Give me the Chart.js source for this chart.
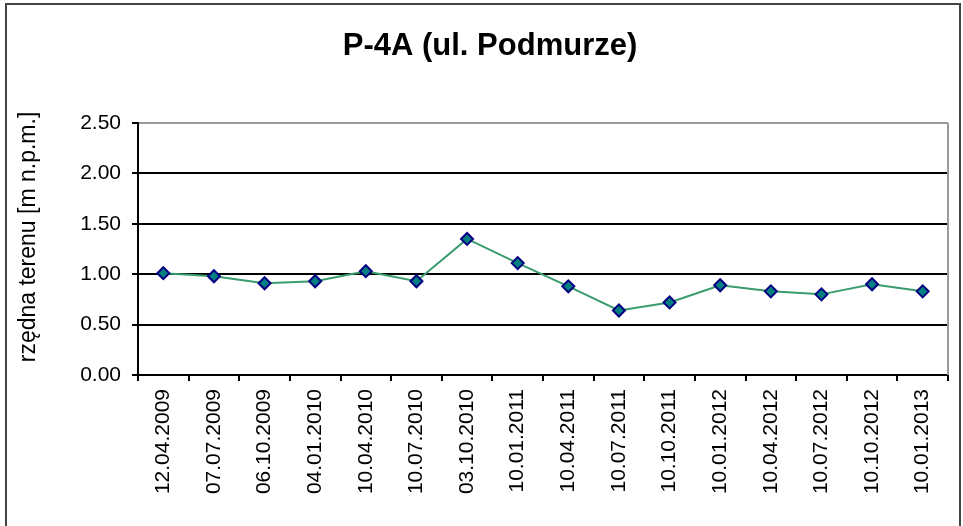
<!DOCTYPE html>
<html>
<head>
<meta charset="utf-8">
<script src="https://cdn.jsdelivr.net/npm/chart.js@4"></script>
<style>
  html, body { margin: 0; padding: 0; background: #fff; }
  #chart { display: block; }
</style>
</head>
<body>
<canvas id="chart" width="963" height="526"></canvas>
<script>
const dates = [
  '12.04.2009', '07.07.2009', '06.10.2009', '04.01.2010',
  '10.04.2010', '10.07.2010', '03.10.2010', '10.01.2011',
  '10.04.2011', '10.07.2011', '10.10.2011', '10.01.2012',
  '10.04.2012', '10.07.2012', '10.10.2012', '10.01.2013'
];
const levels = [
  1.01, 0.98, 0.91, 0.93,
  1.03, 0.93, 1.35, 1.11,
  0.88, 0.64, 0.72, 0.89,
  0.83, 0.80, 0.90, 0.83
];
const yTicks = [0, 0.5, 1, 1.5, 2, 2.5];

const chartTitle = 'P-4A (ul. Podmurze)';
const yTitle = 'rzędna terenu [m n.p.m.]';
const fontFamily = '"Liberation Sans", Arial, sans-serif';

// white page, outer frame, titles, gray right plot border
const frame = {
  id: 'frame',
  beforeDraw(chart) {
    const c = chart.ctx;
    c.save();
    c.fillStyle = '#fff';
    c.fillRect(0, 0, chart.width, chart.height);
    c.restore();
  },
  beforeDatasetsDraw(chart) {
    const c = chart.ctx;
    const a = chart.chartArea;
    c.save();
    c.strokeStyle = '#9a9a9a';
    c.lineWidth = 2;
    c.beginPath();
    c.moveTo(a.right, a.top);
    c.lineTo(a.right, a.bottom);
    c.stroke();
    c.restore();
  },
  afterDraw(chart) {
    const c = chart.ctx;
    c.save();
    c.strokeStyle = '#444';
    c.lineWidth = 2;
    c.beginPath();
    c.moveTo(6, 530);
    c.lineTo(6, 4);
    c.lineTo(960, 4);
    c.lineTo(960, 530);
    c.stroke();

    c.fillStyle = '#000';
    c.font = 'bold 31px ' + fontFamily;
    c.textAlign = 'center';
    c.textBaseline = 'middle';
    c.fillText(chartTitle, 490, 46);

    c.translate(29, 237);
    c.rotate(-Math.PI / 2);
    c.font = '23px ' + fontFamily;
    c.fillText(yTitle, 0, 0);
    c.restore();
  }
};

new Chart(document.getElementById('chart'), {
  type: 'line',
  data: {
    labels: dates,
    datasets: [{
      label: chartTitle,
      data: levels,
      borderColor: '#3a9c6e',
      borderWidth: 2,
      tension: 0,
      pointStyle: 'rectRot',
      pointRadius: 6,
      pointHoverRadius: 6,
      pointBackgroundColor: '#008080',
      pointBorderColor: '#000080',
      pointBorderWidth: 2
    }]
  },
  options: {
    responsive: false,
    animation: false,
    devicePixelRatio: 1,
    layout: {
      padding: { left: 0, top: 123, right: 15, bottom: 0 }
    },
    plugins: {
      legend: { display: false },
      tooltip: { enabled: false },
      title: { display: false }
    },
    scales: {
      x: {
        type: 'category',
        offset: true,
        afterFit(scale) { scale.height = 151; },
        grid: {
          offset: true,
          drawOnChartArea: false,
          drawTicks: true,
          tickLength: 6,
          color: '#000',
          lineWidth: 2
        },
        border: { display: true, color: '#000', width: 2 },
        ticks: {
          autoSkip: false,
          minRotation: 90,
          maxRotation: 90,
          padding: 8,
          color: '#000',
          font: { family: fontFamily, size: 21 }
        }
      },
      y: {
        min: 0,
        max: 2.5,
        afterFit(scale) { scale.width = 138; },
        afterBuildTicks(scale) {
          scale.ticks = yTicks.map(v => ({ value: v }));
        },
        grid: {
          drawTicks: true,
          tickLength: 6,
          lineWidth: 2,
          color: ctx => ctx.tick && ctx.tick.value === 2.5 ? '#9a9a9a' : '#000',
          tickColor: '#000'
        },
        border: { display: true, color: '#000', width: 2 },
        ticks: {
          padding: 11,
          color: '#000',
          font: { family: fontFamily, size: 21 },
          callback: v => Number(v).toFixed(2)
        }
      }
    }
  },
  plugins: [frame]
});
</script>
</body>
</html>
